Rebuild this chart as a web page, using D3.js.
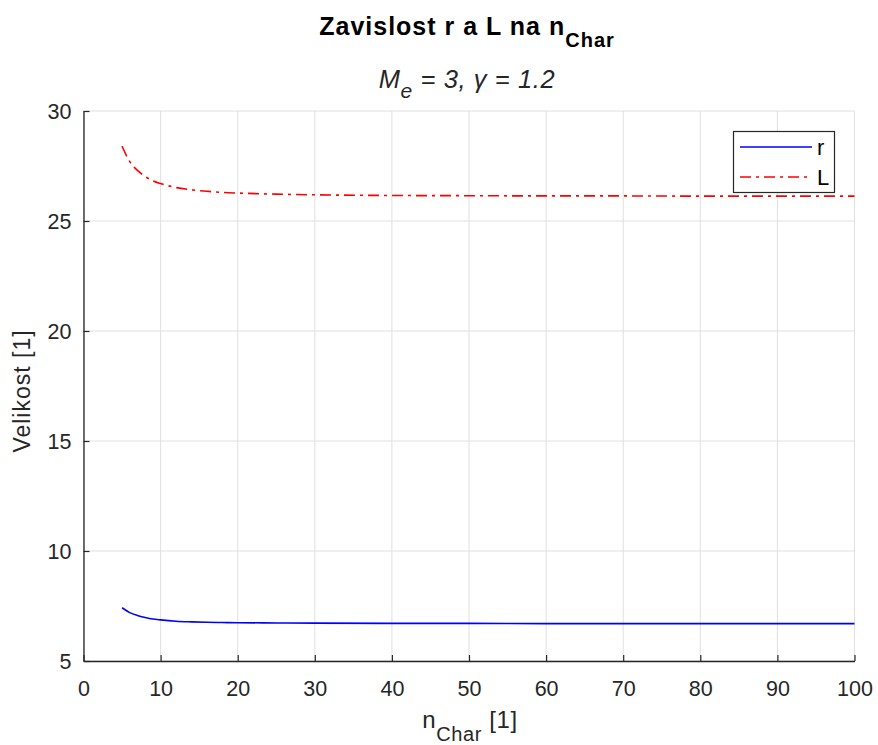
<!DOCTYPE html>
<html><head><meta charset="utf-8">
<script src="https://cdn.jsdelivr.net/npm/d3@7"></script>
<style>body{margin:0;background:#fff;} text{font-family:"Liberation Sans",Arial,sans-serif;}</style>
</head><body>
<svg id="c" width="878" height="745"></svg>
<script>
const nChar = [5,6,7,8,9,10,12,14,16,18,20,25,30,40,50,60,70,80,90,100];
const rVals = [7.42,7.20,7.07,6.98,6.91,6.87,6.81,6.78,6.76,6.75,6.74,6.73,6.72,6.71,6.71,6.70,6.70,6.70,6.70,6.70];
const LVals = [28.40,27.70,27.30,27.02,26.83,26.70,26.52,26.42,26.35,26.30,26.27,26.22,26.19,26.16,26.15,26.14,26.14,26.13,26.13,26.13];
const xTicks = [0,10,20,30,40,50,60,70,80,90,100];
const yTicks = [5,10,15,20,25,30];

const svg = d3.select("#c");
const m = {l:83.5, r:854.5, t:111, b:661};
const x = d3.scaleLinear().domain([0,100]).range([m.l,m.r]);
const y = d3.scaleLinear().domain([5,30]).range([m.b,m.t]);
const FONT = "'Liberation Sans',Arial,sans-serif";

// grid
const g = svg.append("g");
g.selectAll(".gx").data(xTicks).join("line")
  .attr("x1",d=>x(d)).attr("x2",d=>x(d)).attr("y1",m.t).attr("y2",m.b)
  .attr("stroke","#e0e0e0").attr("stroke-width",1);
g.selectAll(".gy").data(yTicks).join("line")
  .attr("x1",m.l).attr("x2",m.r).attr("y1",d=>y(d)).attr("y2",d=>y(d))
  .attr("stroke","#e0e0e0").attr("stroke-width",1);

// axes
const xa = svg.append("g").attr("transform",`translate(0,${m.b})`)
  .call(d3.axisBottom(x).tickValues(xTicks).tickSizeInner(-6).tickSizeOuter(0).tickPadding(20));
const ya = svg.append("g").attr("transform",`translate(${m.l},0)`)
  .call(d3.axisLeft(y).tickValues(yTicks).tickSizeInner(-6).tickSizeOuter(0).tickPadding(12));
[xa,ya].forEach(a=>{
  a.select(".domain").attr("stroke","#262626").attr("stroke-width",1.3);
  a.selectAll(".tick line").attr("stroke","#262626").attr("stroke-width",1.2);
  a.selectAll(".tick text").attr("fill","#262626").style("font-size","21.5px").style("font-family",FONT);
});
xa.selectAll(".tick text").attr("dy","0.71em");
ya.selectAll(".tick text").attr("dy","0.36em");

// lines
const line = d3.line().x((d,i)=>x(nChar[i])).y(d=>y(d)).curve(d3.curveMonotoneX);
svg.append("path").datum(rVals).attr("d",line).attr("fill","none")
  .attr("stroke","#0000ff").attr("stroke-width",1.6);
svg.append("path").datum(LVals).attr("d",line).attr("fill","none")
  .attr("stroke","#ff0000").attr("stroke-width",1.6).attr("stroke-dasharray","11,5,3,5");

// legend
const lg = svg.append("g");
lg.append("rect").attr("x",733.5).attr("y",131.5).attr("width",101).attr("height",61)
  .attr("fill","#fff").attr("stroke","#262626").attr("stroke-width",1.2);
lg.append("line").attr("x1",740).attr("x2",812).attr("y1",147).attr("y2",147)
  .attr("stroke","#0000ff").attr("stroke-width",1.6);
lg.append("line").attr("x1",740).attr("x2",812).attr("y1",177).attr("y2",177)
  .attr("stroke","#ff0000").attr("stroke-width",1.6).attr("stroke-dasharray","11,5,3,5");
lg.append("text").attr("x",817).attr("y",155).text("r").style("font-size","22px").attr("fill","#000");
lg.append("text").attr("x",817).attr("y",185).text("L").style("font-size","22px").attr("fill","#000");

// title
const t = svg.append("text").attr("x",467).attr("y",35).attr("text-anchor","middle")
  .style("font-size","25px").style("font-weight","bold").style("letter-spacing","1px").attr("fill","#000");
t.append("tspan").text("Zavislost r a L na n");
t.append("tspan").attr("dy",12).style("font-size","20px").text("Char");

const st = svg.append("text").attr("x",467).attr("y",88).attr("text-anchor","middle")
  .style("font-size","25.5px").style("font-style","italic").style("letter-spacing","0.6px").attr("fill","#262626");
st.append("tspan").text("M");
st.append("tspan").attr("dy",10).style("font-size","21px").text("e");
st.append("tspan").attr("dy",-10).text(" = 3, \u03B3 = 1.2");

// axis labels
const xl = svg.append("text").attr("x",470).attr("y",728).attr("text-anchor","middle")
  .style("font-size","24px").style("letter-spacing","0.6px").attr("fill","#262626");
xl.append("tspan").text("n");
xl.append("tspan").attr("dy",13).style("font-size","20px").text("Char");
xl.append("tspan").attr("dy",-13).text(" [1]");

svg.append("text").attr("transform","translate(30,391) rotate(-90)").attr("text-anchor","middle")
  .style("font-size","23px").style("letter-spacing","1px").attr("fill","#262626").text("Velikost [1]");
</script>
</body></html>
